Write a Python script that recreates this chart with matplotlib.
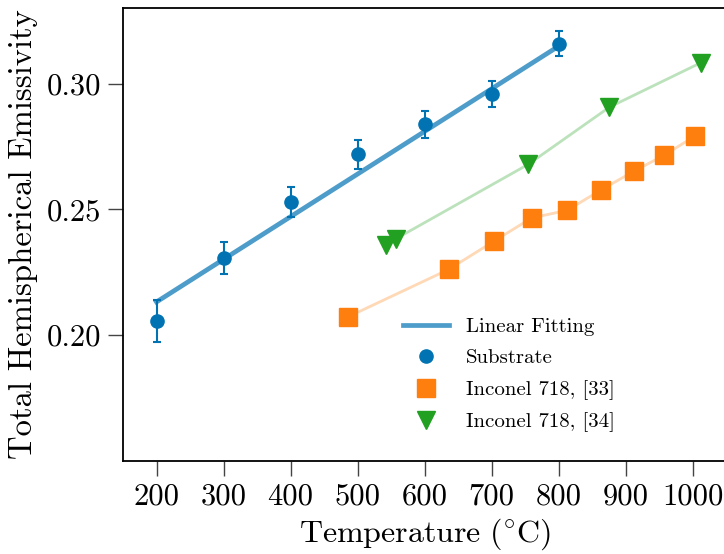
import matplotlib
matplotlib.use("Agg")
import matplotlib.pyplot as plt

plt.rcParams['font.family'] = ['cmr10']
plt.rcParams['mathtext.fontset'] = 'cm'
plt.rcParams['axes.formatter.use_mathtext'] = True

# substrate measurements
sub_temp = [200, 300, 400, 500, 600, 700, 800]
sub_eps = [0.2056, 0.2308, 0.2528, 0.2718, 0.2838, 0.2959, 0.3158]
sub_err = [0.0083, 0.0063, 0.0060, 0.0056, 0.0054, 0.0052, 0.0050]

# linear fitting end points
fit_temp = [200, 800]
fit_eps = [0.2132, 0.3148]

# Inconel 718, [33]
ref33_temp = [486, 636, 704, 760, 813, 864, 913, 957, 1003]
ref33_eps = [0.2073, 0.2261, 0.2374, 0.2466, 0.2496, 0.2578, 0.2652, 0.2714, 0.2790]

# Inconel 718, [34]
ref34_temp = [543, 558, 755, 876, 1012]
ref34_eps = [0.2357, 0.2384, 0.2679, 0.2906, 0.3082]

blue = '#0173B2'
orange = '#FF7F0E'
green = '#22A022'

fig = plt.figure(figsize=(7.24, 5.54), dpi=100)
ax = fig.add_axes([123 / 724, 93 / 554, 603 / 724, 453 / 554])

ax.plot(fit_temp, fit_eps, color=blue, alpha=0.7, lw=3.4, label='Linear Fitting', zorder=2)
ax.errorbar(sub_temp, sub_eps, yerr=sub_err, fmt='none', ecolor=blue,
            capsize=3, elinewidth=1.5, capthick=1.5, zorder=3)
ax.plot(sub_temp, sub_eps, 'o', color=blue, ms=9.5, label='Substrate', zorder=4)
ax.plot(ref33_temp, ref33_eps, color=orange, alpha=0.3, lw=2, zorder=1)
ax.plot(ref33_temp, ref33_eps, 's', color=orange, ms=13, label='Inconel 718, [33]', zorder=3)
ax.plot(ref34_temp, ref34_eps, color=green, alpha=0.3, lw=2, zorder=1)
ax.plot(ref34_temp, ref34_eps, 'v', color=green, ms=13, label='Inconel 718, [34]', zorder=3)

ax.set_xlim(150, 1050)
ax.set_ylim(0.15, 0.33)
ax.set_xticks([200, 300, 400, 500, 600, 700, 800, 900, 1000])
ax.set_yticks([0.20, 0.25, 0.30])
ax.set_yticklabels(['0.20', '0.25', '0.30'])
ax.set_xticklabels([str(t) for t in ax.get_xticks().astype(int)])
ax.tick_params(direction='out', length=11, width=1, color='#444444', labelsize=22, pad=5)
for s in ax.spines.values():
    s.set_linewidth(1.3)

ax.set_xlabel(r'$\mathrm{Temperature\ (^{\circ}C)}$', fontsize=23, labelpad=4)
ax.set_ylabel('Total Hemispherical Emissivity', fontsize=23.5, labelpad=6)

ax.legend(loc='center', bbox_to_anchor=(0.64, 0.19), frameon=False, fontsize=15,
          handlelength=2.2, labelspacing=0.6, numpoints=1)

fig.savefig('out.png', dpi=100)
